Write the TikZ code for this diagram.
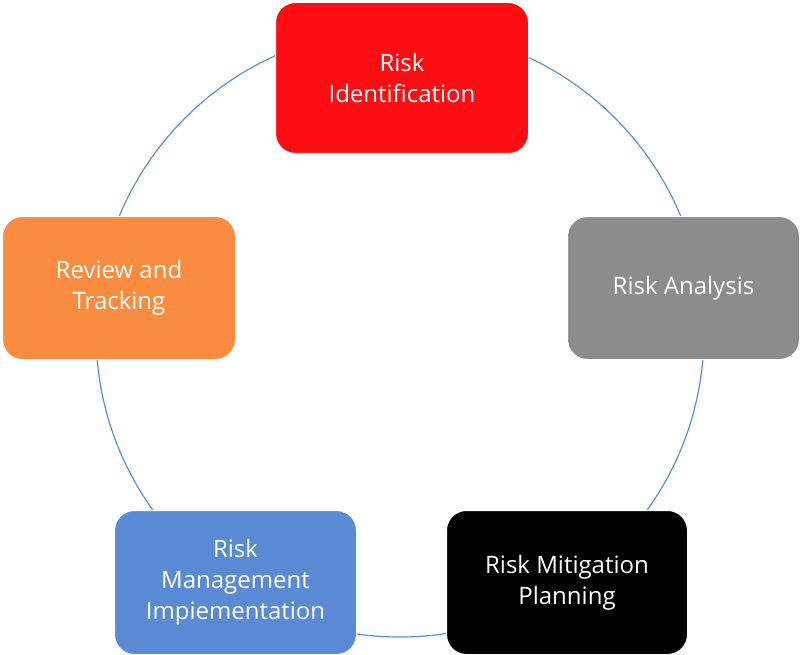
\documentclass[tikz,border=0pt]{standalone}
\usepackage{fontspec}
\setmainfont{Open Sans}
\begin{document}
\begin{tikzpicture}[x=1pt,y=-1pt,
  stage/.style={rounded corners=20pt,draw=white,line width=1pt,text=white,align=center,
    font=\fontsize{24}{31}\selectfont,inner sep=0pt,anchor=north west}]
\useasboundingbox (0,0) rectangle (800,655);
\definecolor{cblue}{HTML}{5B8FD6}
\draw[cblue,line width=1.2pt] (400,333) circle (304);
\node[stage,fill={rgb,255:red,255;green,13;blue,18},minimum width=253pt,minimum height=151pt] (a) at (275,2) {Risk\\Identification};
\node[stage,fill={rgb,255:red,140;green,140;blue,140},minimum width=232pt,minimum height=143pt] (b) at (567,216) {Risk Analysis};
\node[stage,fill=black,minimum width=241pt,minimum height=144pt] (c) at (446,510) {Risk Mitigation\\Planning};
\node[stage,fill={rgb,255:red,90;green,138;blue,212},minimum width=242pt,minimum height=144pt] (d) at (114,510) {Risk\\Management\\Impiementation};
\node[stage,fill={rgb,255:red,249;green,140;blue,64},minimum width=233pt,minimum height=143pt] (e) at (2,216) {Review and\\Tracking};
\end{tikzpicture}
\end{document}
